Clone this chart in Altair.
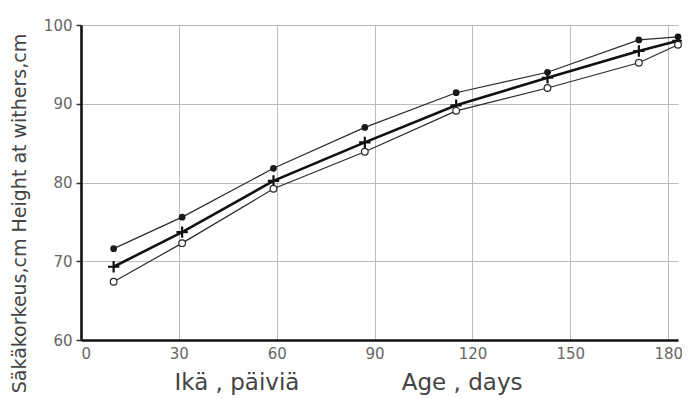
import altair as alt
import pandas as pd

days = [10, 31, 59, 87, 115, 143, 171, 183]
filled_vals = [71.6, 75.6, 81.8, 87.0, 91.4, 94.0, 98.1, 98.5]
plus_vals = [69.3, 73.7, 80.2, 85.1, 89.8, 93.3, 96.7, 98.0]
open_vals = [67.4, 72.3, 79.2, 83.9, 89.1, 92.0, 95.2, 97.5]

x_ticks = [0, 30, 60, 90, 120, 150, 180]
y_ticks = [60, 70, 80, 90, 100]

df = pd.DataFrame({
    "day": days * 3,
    "cm": filled_vals + plus_vals + open_vals,
    "series": ["filled"] * 8 + ["plus"] * 8 + ["open"] * 8,
})

nb = "\u00a0"
x_title = "Ikä , päiviä" + nb * 14 + "Age , days"

x = alt.X("day:Q", scale=alt.Scale(domain=[0, 183], nice=False, zero=False),
          axis=alt.Axis(values=x_ticks, title=x_title, grid=True, ticks=False,
                        titleX=267, titleY=42, titleAlign="center",
                        titleBaseline="middle"))
y = alt.Y("cm:Q", scale=alt.Scale(domain=[60, 100], nice=False, zero=False),
          axis=alt.Axis(values=y_ticks, title="Säkäkorkeus,cm  Height at withers,cm",
                        grid=True, ticks=True, tickSize=5,
                        titleX=-62, titleY=188, titleAngle=-90, titleAlign="center",
                        titleBaseline="middle"))

base = alt.Chart(df)

line_filled = base.transform_filter(alt.datum.series == "filled").mark_line(
    color="#2a2a2a", strokeWidth=1.2).encode(x=x, y=y)
pts_filled = base.transform_filter(alt.datum.series == "filled").mark_point(
    shape="circle", filled=True, color="#1a1a1a", size=45, opacity=1).encode(x=x, y=y)

line_plus = base.transform_filter(alt.datum.series == "plus").mark_line(
    color="#111111", strokeWidth=2.6).encode(x=x, y=y)
pts_plus = base.transform_filter(alt.datum.series == "plus").mark_point(
    shape="M-1,0H1M0,-1V1", filled=False, color="#111111", strokeWidth=2.2,
    size=130, opacity=1).encode(x=x, y=y)

line_open = base.transform_filter(alt.datum.series == "open").mark_line(
    color="#2a2a2a", strokeWidth=1.2).encode(x=x, y=y)
pts_open = base.transform_filter(alt.datum.series == "open").mark_point(
    shape="circle", filled=True, fill="white", stroke="#2a2a2a", strokeWidth=1.2,
    size=45, opacity=1).encode(x=x, y=y)

chart = alt.layer(line_filled, line_plus, line_open, pts_filled, pts_plus, pts_open).properties(
    width=597, height=315,
    autosize=alt.AutoSizeParams(type="none"),
    padding={"left": 73, "top": 17, "right": 4, "bottom": 58},
    background="white",
).configure_view(stroke=None).configure_axis(
    domainColor="#111111", domainWidth=2.6,
    gridColor="#bbbbbb", gridWidth=1,
    tickColor="#333333", tickWidth=1.5,
    labelFont="DejaVu Sans", labelFontSize=15, labelColor="#666666",
    titleFont="DejaVu Sans", titleFontSize=23, titleColor="#444444", titleFontWeight="normal",
).configure_axisX(labelPadding=6).configure_axisY(labelPadding=4, titleFontSize=19)

chart.save("out.html", embed_options={"renderer": "svg", "actions": False})
